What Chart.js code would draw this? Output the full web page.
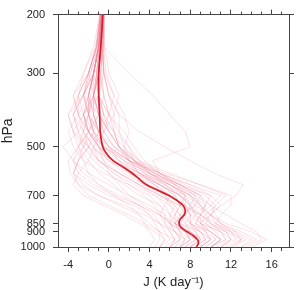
<!DOCTYPE html>
<html>
<head>
<meta charset="utf-8">
<script src="https://cdn.jsdelivr.net/npm/chart.js@4"></script>
<style>
  html, body { margin: 0; padding: 0; background: #fff; }
  canvas { display: block; }
</style>
</head>
<body>
<canvas id="myChart" width="299" height="290"></canvas>
<script>
"use strict";

// pressure levels (hPa) for the single profiles, bottom to top
const levels = [1000, 950, 900, 850, 800, 750, 700, 650, 600, 550, 500, 450, 400, 350, 300, 250, 200];

// heating rate J (K/day) of each profile at the levels above
const profiles = [
  [9, 10, 9, 8, 8, 7.5, 6, 4, 2, 0.5, -1, -1.5, -1, -0.5, -1, -0.8, -0.6],
  [7, 8, 7, 6, 6.5, 7, 6.5, 5, 3, 1, -0.5, -2, -2.5, -1.5, -1, -0.7, -0.5],
  [12, 13.5, 12, 10, 9, 8, 7, 5, 3, 1.5, 0, -1, -0.5, -1, -1.2, -1, -0.8],
  [5, 6, 5.5, 5, 4.5, 3, 1, -1, -2.5, -3.5, -3, -2, -1.5, -1.5, -1.2, -0.9, -0.7],
  [10, 11, 10, 8.5, 9, 10, 11, 8, 5, 2, 0, -1, -1.5, -2, -1.5, -1, -0.6],
  [8, 9, 8.5, 7, 7.5, 8, 7, 5.5, 3.5, 2, 1, 0.5, 0, -0.5, -0.8, -0.6, -0.5],
  [6, 7, 6.5, 6, 5.5, 4, 2, 0, -2, -3.5, -4.5, -3, -2, -1.8, -1.5, -1, -0.8],
  [13, 14.5, 13, 11, 10, 9, 7.5, 6, 4, 2, 0.5, -0.5, -1, -1.5, -1, -0.9, -0.7],
  [9, 9.5, 8, 6.5, 7, 8.5, 9, 7, 4.5, 2.5, 1, 0, -1, -2.5, -2, -1.2, -0.8],
  [7.5, 8.5, 7.5, 6, 5, 4.5, 3.5, 2, 0.5, -1, -2, -3, -3.5, -2.5, -1.5, -1, -0.7],
  [11, 12, 11, 9, 8.5, 8, 8.5, 7, 5, 3, 1.5, 0, -0.5, -1, -0.8, -0.6, -0.4],
  [4.5, 5, 5, 4.5, 4, 2.5, 0, -2, -3.5, -3, -2, -1.5, -2.5, -3, -2, -1.2, -0.9],
  [8.5, 9.5, 9, 8, 8, 7, 5, 3, 1, -0.5, -1.5, -1, 0, 0.5, -0.5, -0.7, -0.6],
  [14, 15.5, 14, 11.5, 10, 9, 8, 6, 3.5, 1, -0.5, -1.5, -2, -2, -1.5, -1, -0.7],
  [6.5, 7.5, 7, 6.5, 7, 7.5, 7, 5, 2.5, 0, -1.5, -2.5, -3, -3.5, -2, -1.2, -0.8],
  [9.5, 10.5, 10, 9, 9.5, 10.5, 11.5, 9, 6, 3, 1, 0.5, 0.5, 0, -0.5, -0.6, -0.5],
  [7, 8, 7.5, 7, 6, 5, 3, 1.5, 0, -1.5, -2.5, -2, -1, -1.5, -2, -1.3, -0.9],
  [10, 11.5, 11, 10, 9, 7.5, 6, 4.5, 3, 2, 1.5, 2, 1.5, 0.5, -0.3, -0.5, -0.5],
  [5.5, 6.5, 6, 5.5, 5.5, 5, 4, 2, -0.5, -2.5, -3.5, -4, -3, -2, -1.5, -1.1, -0.8],
  [8, 9, 8, 6.5, 6.5, 7, 7.5, 6, 4, 2.5, 1, 0.5, -0.5, -1, -1, -0.8, -0.6],
  [12.5, 13, 11.5, 9.5, 8.5, 8, 7, 5, 2.5, 0.5, -1, -2, -2.5, -1.5, -1, -0.8, -0.6],
  [7, 7.5, 6.5, 5.5, 5, 5.5, 6, 4.5, 2, 0, -1, -0.5, 0.5, 1, 0, -0.4, -0.5],
  [9, 10, 9.5, 9, 10, 11, 10, 7, 4, 1.5, -0.5, -1.5, -2, -2.5, -1.8, -1.1, -0.7],
  [6, 6.5, 6, 5, 4, 3, 1.5, 0.5, -1, -2, -3, -3.5, -2.5, -1, -0.8, -0.7, -0.6],
  [10.5, 12, 11.5, 10.5, 11, 12, 12, 9, 5.5, 2.5, 0.5, -0.5, -1, -1, -1, -0.8, -0.6],
  [8, 8.5, 7.5, 6, 6, 6.5, 5.5, 3.5, 1.5, 0, -1, -2, -3, -3, -2.5, -1.3, -0.8],
  [11, 12.5, 12, 11, 10, 8.5, 7, 5.5, 4, 2.5, 1.5, 1, 0, -0.5, -0.7, -0.6, -0.5],
  [5, 5.5, 5, 4, 3, 1, -1, -2.5, -3.5, -3, -2.5, -3, -3.5, -2.5, -1.5, -1, -0.7],
  [9, 10, 9, 7.5, 8, 9, 8.5, 6.5, 4, 1.5, -0.5, -1, -1.5, -1, -1.2, -0.9, -0.7],
  [7.5, 8.5, 8, 7.5, 7, 6.5, 5, 3.5, 2, 1, 0, -1, -2, -2, -1.5, -1, -0.7],
  [13, 14, 12.5, 10.5, 9, 7, 5, 3, 1, -1, -2, -2.5, -2, -1.5, -1.2, -0.9, -0.7],
  [8.5, 9, 8.5, 8, 8.5, 9.5, 10, 8, 5, 2, 0, -1.5, -2, -1, -0.5, -0.6, -0.6],
  [6, 7, 7, 6.5, 6, 5.5, 4.5, 3, 1, -1, -2.5, -3.5, -4, -3, -2, -1.2, -0.8],
  [10, 11, 10, 8, 7.5, 7, 6.5, 5, 3.5, 2.5, 2, 1, 1, 0, -0.5, -0.5, -0.5],
  [9.5, 10.5, 9.5, 8, 7, 6, 4.5, 2.5, 0.5, -1, -1.5, -0.5, 0, -1, -1.5, -1, -0.7],
  [7, 8, 7.5, 6.5, 7.5, 8.5, 8, 6, 3, 0.5, -1, -2, -2.5, -2, -1.5, -1, -0.7],
  [11.5, 13, 12.5, 11, 10.5, 10, 9, 7, 4.5, 2, 0, -1, -1.5, -1.5, -1.2, -0.9, -0.6],
  [4, 4.5, 4, 3.5, 3, 2, 0.5, -1, -2, -2.5, -3, -2.5, -2, -1.5, -1, -0.8, -0.6],
  [8, 9.5, 9, 7, 6.5, 6, 5.5, 4.5, 3, 2, 1, 0, -1, -1.5, -1.5, -1, -0.7],
  [10, 11, 10.5, 9.5, 10, 10.5, 9.5, 7.5, 5, 2.5, 0.5, -1, -2, -2.5, -2, -1.2, -0.8],
  [6, 6.5, 5, 3.5, 2, 0, -2, -3, -3.5, -3, -2, -1, -1.5, -2, -1.5, -1, -0.7],
  [7, 7.5, 6.5, 5, 3.5, 1.5, -1, -3, -3.8, -4, -3, -2, -1, -1, -1, -0.8, -0.6],
  [5, 5.5, 4.5, 3, 1.5, -0.5, -2.5, -3.5, -3, -2, -1.5, -2.5, -3.5, -3, -2, -1.2, -0.8],
  [8, 9, 8, 6.5, 5, 3, 0.5, -1.5, -3, -3.5, -2.5, -1.5, -2, -2.5, -1.8, -1, -0.7],
  [9, 10, 9.5, 8.5, 9, 9.5, 8, 6, 4, 3, 2, 0.5, -1, -1.5, -1, -0.8, -0.6],
  [11, 12, 11.5, 10, 9.5, 9, 8, 6.5, 5, 3.5, 2.5, 1.5, 0, -1, -1, -0.7, -0.5],
  [6.5, 7, 6.5, 6, 5, 3.5, 2, 1, 0, -0.5, -1, -2, -3, -3.5, -2.5, -1.5, -0.9],
  [10, 11.5, 11, 9, 8, 7.5, 7.5, 6.5, 4.5, 2, -0.5, -2, -2.5, -2, -1.5, -1, -0.7],
  [13.5, 15, 14.5, 13, 11.5, 10, 8.5, 6.5, 4.5, 2.5, 1, 0, -1, -1, -1, -0.8, -0.6],
  [7.5, 8, 7.5, 7, 7.5, 8, 7.5, 5.5, 3, 0.5, -2, -3.5, -4, -2.5, -1.5, -1, -0.7],
  [10, 11, 10, 9, 9, 9.5, 9, 7, 5, 4.3, 8, 7.5, 6, 4.3, 2, -0.5, -0.5],
  [12, 13, 12, 10.5, 10, 11, 12.5, 13.2, 10.3, 8, 5.5, 3, 1, 0, -0.5, -0.6, -0.5]
];

// mean profile, finer levels
const meanLevels = [1000, 975, 950, 925, 900, 875, 850, 825, 800, 775, 750, 725, 700, 675, 650, 625, 600, 575, 550, 525, 500, 450, 400, 350, 300, 250, 200];
const meanJ = [8.6, 8.8, 8.7, 8.3, 7.7, 7.1, 6.9, 7.0, 7.4, 7.5, 7.3, 6.7, 5.9, 4.8, 3.7, 3.0, 2.3, 1.4, 0.4, -0.2, -0.6, -0.85, -0.9, -1.0, -1.0, -0.8, -0.6];

const yTicks = [200, 300, 500, 700, 850, 900, 1000];
const xTicks = [-4, -3, -2, -1, 0, 1, 2, 3, 4, 5, 6, 7, 8, 9, 10, 11, 12, 13, 14, 15, 16, 17];
const xLabels = [-4, 0, 4, 8, 12, 16];

const font = "'Liberation Sans', Arial, sans-serif";
const axisColor = "#444";

function toPoints(xs, ys) {
  const pts = [];
  for (let i = 0; i < ys.length; i++) {
    pts.push({ x: xs[i], y: ys[i] });
  }
  return pts;
}

const datasets = [];
datasets.push({
  label: "mean",
  data: toPoints(meanJ, meanLevels),
  borderColor: "#d41f2b",
  borderWidth: 1.7,
  tension: 0.3,
  order: 0,
});
for (let i = 0; i < profiles.length; i++) {
  datasets.push({
    label: "p" + i,
    data: toPoints(profiles[i], levels),
    borderColor: "rgba(240,128,152,0.3)",
    borderWidth: 0.8,
    order: 1,
  });
}

function setXTicks(scale) {
  scale.ticks = xTicks.map((v) => ({ value: v }));
}
function setYTicks(scale) {
  scale.ticks = yTicks.map((v) => ({ value: v }));
}
function isMajor(ctx) {
  return ctx.tick && xLabels.includes(ctx.tick.value);
}

const gridX = {
  drawOnChartArea: false,
  drawTicks: true,
  tickLength: 5,
  tickColor: axisColor,
  tickBorderDash: (ctx) => (isMajor(ctx) ? [] : [3, 10]),
};
const gridXTop = {
  drawOnChartArea: false,
  drawTicks: true,
  tickLength: 5,
  tickColor: axisColor,
  tickBorderDash: (ctx) => (isMajor(ctx) ? [] : [3, 2]),
  tickBorderDashOffset: (ctx) => (isMajor(ctx) ? 0 : 3),
};
const gridY = {
  drawOnChartArea: false,
  drawTicks: true,
  tickLength: 5,
  tickColor: axisColor,
};
const border = { display: true, color: axisColor, width: 1 };

const config = {
  type: "scatter",
  data: { datasets: datasets },
  options: {
    responsive: false,
    animation: false,
    devicePixelRatio: 1,
    showLine: true,
    elements: { point: { radius: 0 } },
    layout: { padding: { left: 0, right: 0, top: 0, bottom: 0 } },
    plugins: { legend: { display: false }, tooltip: { enabled: false } },
    scales: {
      x: {
        type: "linear",
        position: "bottom",
        min: -5,
        max: 17.7,
        afterBuildTicks: setXTicks,
        afterFit: (s) => { s.height = 43; },
        grid: gridX,
        border: border,
        ticks: {
          autoSkip: false,
          maxRotation: 0,
          padding: 6,
          color: "#222",
          font: { family: font, size: 11 },
          callback: (v) => (xLabels.includes(v) ? String(v) : ""),
        },
        title: {
          display: true,
          text: "J (K day\u207B\u00B9)",
          color: "#222",
          font: { family: font, size: 13 },
          padding: { top: 0, bottom: 0 },
        },
      },
      x2: {
        type: "linear",
        position: "top",
        min: -5,
        max: 17.7,
        afterBuildTicks: setXTicks,
        afterFit: (s) => { s.height = 12; },
        grid: gridXTop,
        border: border,
        ticks: { display: false, autoSkip: false },
      },
      y: {
        type: "logarithmic",
        position: "left",
        reverse: true,
        min: 200,
        max: 1000,
        afterBuildTicks: setYTicks,
        afterFit: (s) => { s.width = 58; },
        grid: gridY,
        border: border,
        ticks: {
          autoSkip: false,
          padding: 8,
          color: "#222",
          font: { family: font, size: 11 },
          callback: (v) => String(v),
        },
        title: {
          display: true,
          text: "hPa",
          color: "#222",
          font: { family: font, size: 14 },
          padding: { top: 0, bottom: 0 },
        },
      },
      y2: {
        type: "logarithmic",
        position: "right",
        reverse: true,
        min: 200,
        max: 1000,
        afterBuildTicks: setYTicks,
        afterFit: (s) => { s.width = 10; },
        grid: gridY,
        border: border,
        ticks: { display: false, autoSkip: false },
      },
    },
  },
};

const profileChart = new Chart(document.getElementById("myChart"), config);
</script>
</body>
</html>
